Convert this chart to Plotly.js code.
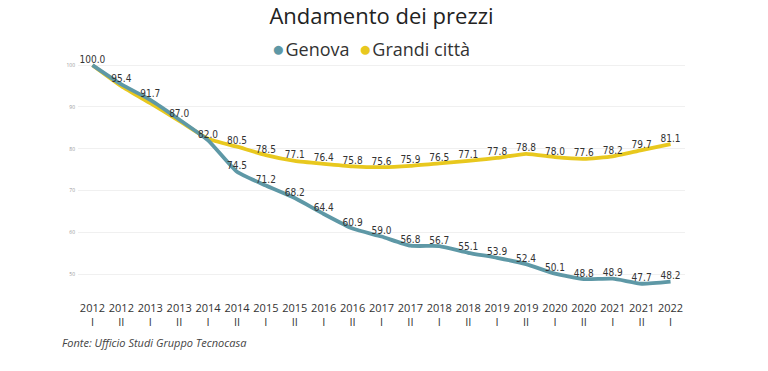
<!DOCTYPE html>
<html>
<head>
<meta charset="utf-8">
<script src="https://cdn.plot.ly/plotly-3.0.1.min.js"></script>
<style>html,body{margin:0;padding:0;background:#fff;}#chart{width:768px;height:371px;}</style>
</head>
<body>
<div id="chart"></div>
<script>
const years = ["2012","2012","2013","2013","2014","2014","2015","2015","2016","2016","2017","2017","2018","2018","2019","2019","2020","2020","2021","2021","2022"];
const halves = ["I","II","I","II","I","II","I","II","I","II","I","II","I","II","I","II","I","II","I","II","I"];
const genova = [100.0,95.4,91.7,87.0,82.0,74.5,71.2,68.2,64.4,60.9,59.0,56.8,56.7,55.1,53.9,52.4,50.1,48.8,48.9,47.7,48.2];
const grandiCitta = [100.0,95.0,90.9,86.7,82.4,80.5,78.5,77.1,76.4,75.8,75.6,75.9,76.5,77.1,77.8,78.8,78.0,77.6,78.2,79.7,81.1];
const seriesNames = ["Genova","Grandi città"];
const genovaLabels = genova.map(v => v.toFixed(1));
const grandiLabels = grandiCitta.map((v,i)=> i<5 ? "" : v.toFixed(1));
const yTicks = [50,60,70,80,90,100];

const cats = years.map((y,i)=> y + "<br>" + halves[i]);
const labelFont = {family:"DejaVu Sans Condensed, DejaVu Sans, sans-serif", size:10, color:"#333"};
const teal = "#5E98A6", yellow = "#E8C81E";

const traces = [
  {x:cats, y:grandiCitta, name:seriesNames[1], mode:"lines+text", text:grandiLabels, textposition:"top center", textfont:labelFont,
   line:{color:yellow, width:3.8, shape:"spline", smoothing:0.5}, hoverinfo:"skip", cliponaxis:false},
  {x:cats, y:genova, name:seriesNames[0], mode:"lines+text", text:genovaLabels, textposition:"top center", textfont:labelFont,
   line:{color:teal, width:3.8, shape:"spline", smoothing:0.5}, hoverinfo:"skip", cliponaxis:false}
];

const dot = c => `<span style="color:${c};font-size:21px">●</span>`;
const legendText = `${dot(teal)}<span style="font-size:3px"> </span>${seriesNames[0]}  ${dot(yellow)}<span style="font-size:3px"> </span>${seriesNames[1]}`;

const layout = {
  width:768, height:371,
  margin:{l:78, r:83, t:56, b:81},
  paper_bgcolor:"#fff", plot_bgcolor:"#fff",
  font:{family:"Open Sans, Noto Sans, sans-serif", color:"#333"},
  title:{text:"Andamento dei prezzi", x:0.5, xref:"paper", xanchor:"center", y:0.955, yanchor:"middle",
         font:{family:"Open Sans, Noto Sans, sans-serif", size:22, color:"#222"}},
  showlegend:false,
  xaxis:{type:"category", range:[-0.5,20.5], showgrid:false, zeroline:false, showline:false,
         tickfont:{family:"Open Sans, Noto Sans, sans-serif", size:11, color:"#333"}, ticks:"", ticklabelstandoff:10, fixedrange:true},
  yaxis:{range:[46.2,102.2], tickvals:yTicks, ticktext:yTicks.map(String), showgrid:true, gridcolor:"#f0f0f0", gridwidth:1,
         zeroline:false, showline:false, tickfont:{size:5, color:"#999"}, ticks:"", ticklabelstandoff:2, fixedrange:true},
  annotations:[
    {text:legendText, xref:"paper", yref:"paper", x:0.483, xanchor:"center", y:1.035, yanchor:"middle", showarrow:false,
     font:{family:"Open Sans, Noto Sans, sans-serif", size:18, color:"#333"}},
    {text:"<i>Fonte: Ufficio Studi Gruppo Tecnocasa</i>", xref:"paper", yref:"paper", x:-0.03, xanchor:"left",
     y:-0.225, yanchor:"middle", showarrow:false, font:{family:"Open Sans, Noto Sans, sans-serif", size:11, color:"#444"}}]
};

Plotly.newPlot("chart", traces, layout, {displayModeBar:false, staticPlot:true});
</script>
</body>
</html>
